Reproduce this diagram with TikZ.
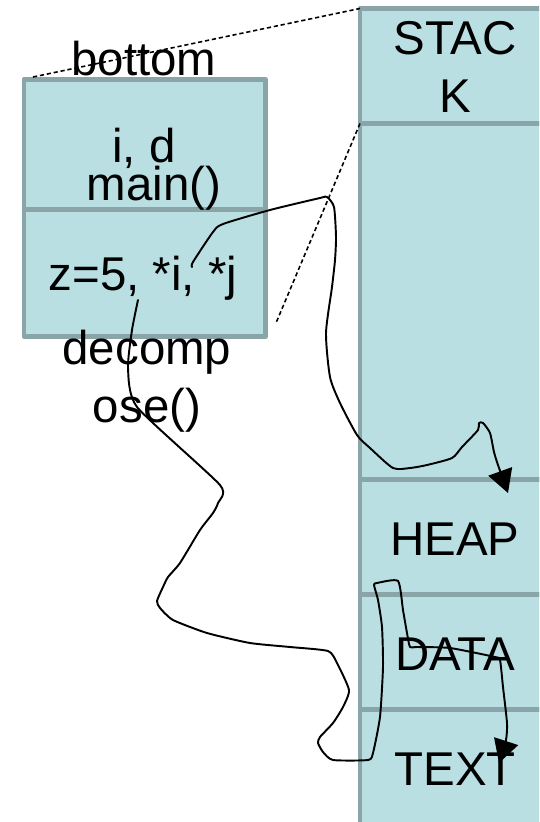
\documentclass[tikz,border=0pt]{standalone}
\usepackage{fontspec}
\setmainfont{Liberation Sans}
\usetikzlibrary{positioning, arrows.meta}
\definecolor{segfill}{RGB}{185,223,227}
\definecolor{segline}{RGB}{138,165,168}

\begin{document}
\begin{tikzpicture}[
	x=0.02cm, y=-0.02cm,
	font=\fontsize{27}{33}\selectfont,
	>={Triangle[length=0.46cm, width=0.5cm]},
	% Define styles for the memory segments
	seg/.style={
		draw=segline,
		fill=segfill,
		line width=2.8pt,
		line join=round,
		inner sep=0pt,
		outer sep=0pt,
		anchor=north west,
		minimum width=3.8cm
	},
	memtext/.style={
		anchor=base,
		align=center,
		inner sep=0pt
	},
	zoomline/.style={
		black,
		line width=0.9pt,
		dash pattern=on 2.4pt off 1.6pt
	},
	scribble/.style={
		black,
		line width=1.1pt,
		line join=round,
		line cap=round
	}
	]
	
	\path[use as bounding box, clip] (0,0) rectangle (539,822);
	
	% --- 1. MEMORY COLUMN ---
	\node[seg, minimum height=2.3cm] (seg_stack) at (360,8.5) {};
	\node[seg, minimum height=7.13cm, below=0cm of seg_stack] (seg_free) {};
	\node[seg, minimum height=2.3cm, below=0cm of seg_free] (seg_heap) {};
	\node[seg, minimum height=2.3cm, below=0cm of seg_heap] (seg_data) {};
	\node[seg, minimum height=2.4cm, below=0cm of seg_data] (seg_text) {};
	
	% base = last line
	\node[memtext] (stack_lbl) at (455,112) {STAC\\K};
	\node[memtext] (heap_lbl) at (455,555) {HEAP};
	\node[memtext] (data_lbl) at (455,670) {DATA};
	\node[memtext] (text_lbl) at (455,785) {TEXT};
	
	% --- 2. STACK FRAMES (zoomed in) ---
	\node[seg, minimum width=4.83cm, minimum height=2.6cm] (frame_main) at (24,79.5) {};
	\node[seg, minimum width=4.83cm, minimum height=2.54cm, below=0cm of frame_main] (frame_decomp) {};
	
	\node[memtext] (bottom_lbl) at (144,75) {bottom};
	\node[memtext] (vars_main) at (144,162) {i, d};
	\node[memtext] (name_main) at (154,200) {main()};
	\node[memtext] (vars_decomp) at (143,290) {z=5, *i, *j};
	\node[memtext] (name_decomp) at (147,422) {decomp\\ose()};
	
	% Zoom lines
	\coordinate (zoom_end) at (276,323);
	\draw[zoomline] ([xshift=0.18cm, yshift=0.05cm]frame_main.north west) -- (seg_stack.north west);
	\draw[zoomline] (seg_stack.south west) -- (zoom_end);
	
	% --- 3. POINTERS (hand drawn) ---
	% *i -> heap
	\draw[scribble, ->] plot[smooth, tension=0.4] coordinates {
		(192,267) (193,262) (213,232) (223,224) (270,210) (320,198) (327,197)
		(334,207) (336,237) (335,260) (332,287) (326,333) (330,377) (340,403)
		(357,435) (370,448) (393,468) (410,468) (427,465) (452,458) (462,447)
		(478,430) (479,423) (483,423) (490,433) (494,452) (498,465) (508,493)};
	% 5 -> text
	\draw[scribble, ->] plot[smooth, tension=0.35] coordinates {
		(138,300) (132,330) (128,368) (137,407) (220,485) (218,503) (213,513)
		(200,530) (180,563) (168,577) (163,587) (157,601) (160,608) (173,620)
		(207,633) (250,643) (290,647) (328,651) (337,663) (349,690) (343,707)
		(333,723) (320,737) (318,743) (323,752) (333,760) (368,760) (373,753)
		(380,717) (383,667) (382,627) (378,600) (374,585) (377,583) (398,581)
		(403,610) (407,633) (410,647) (417,647) (450,648) (495,657) (500,660)
		(503,687) (507,723) (506,740) (499,763)};
	
\end{tikzpicture}
\end{document}
